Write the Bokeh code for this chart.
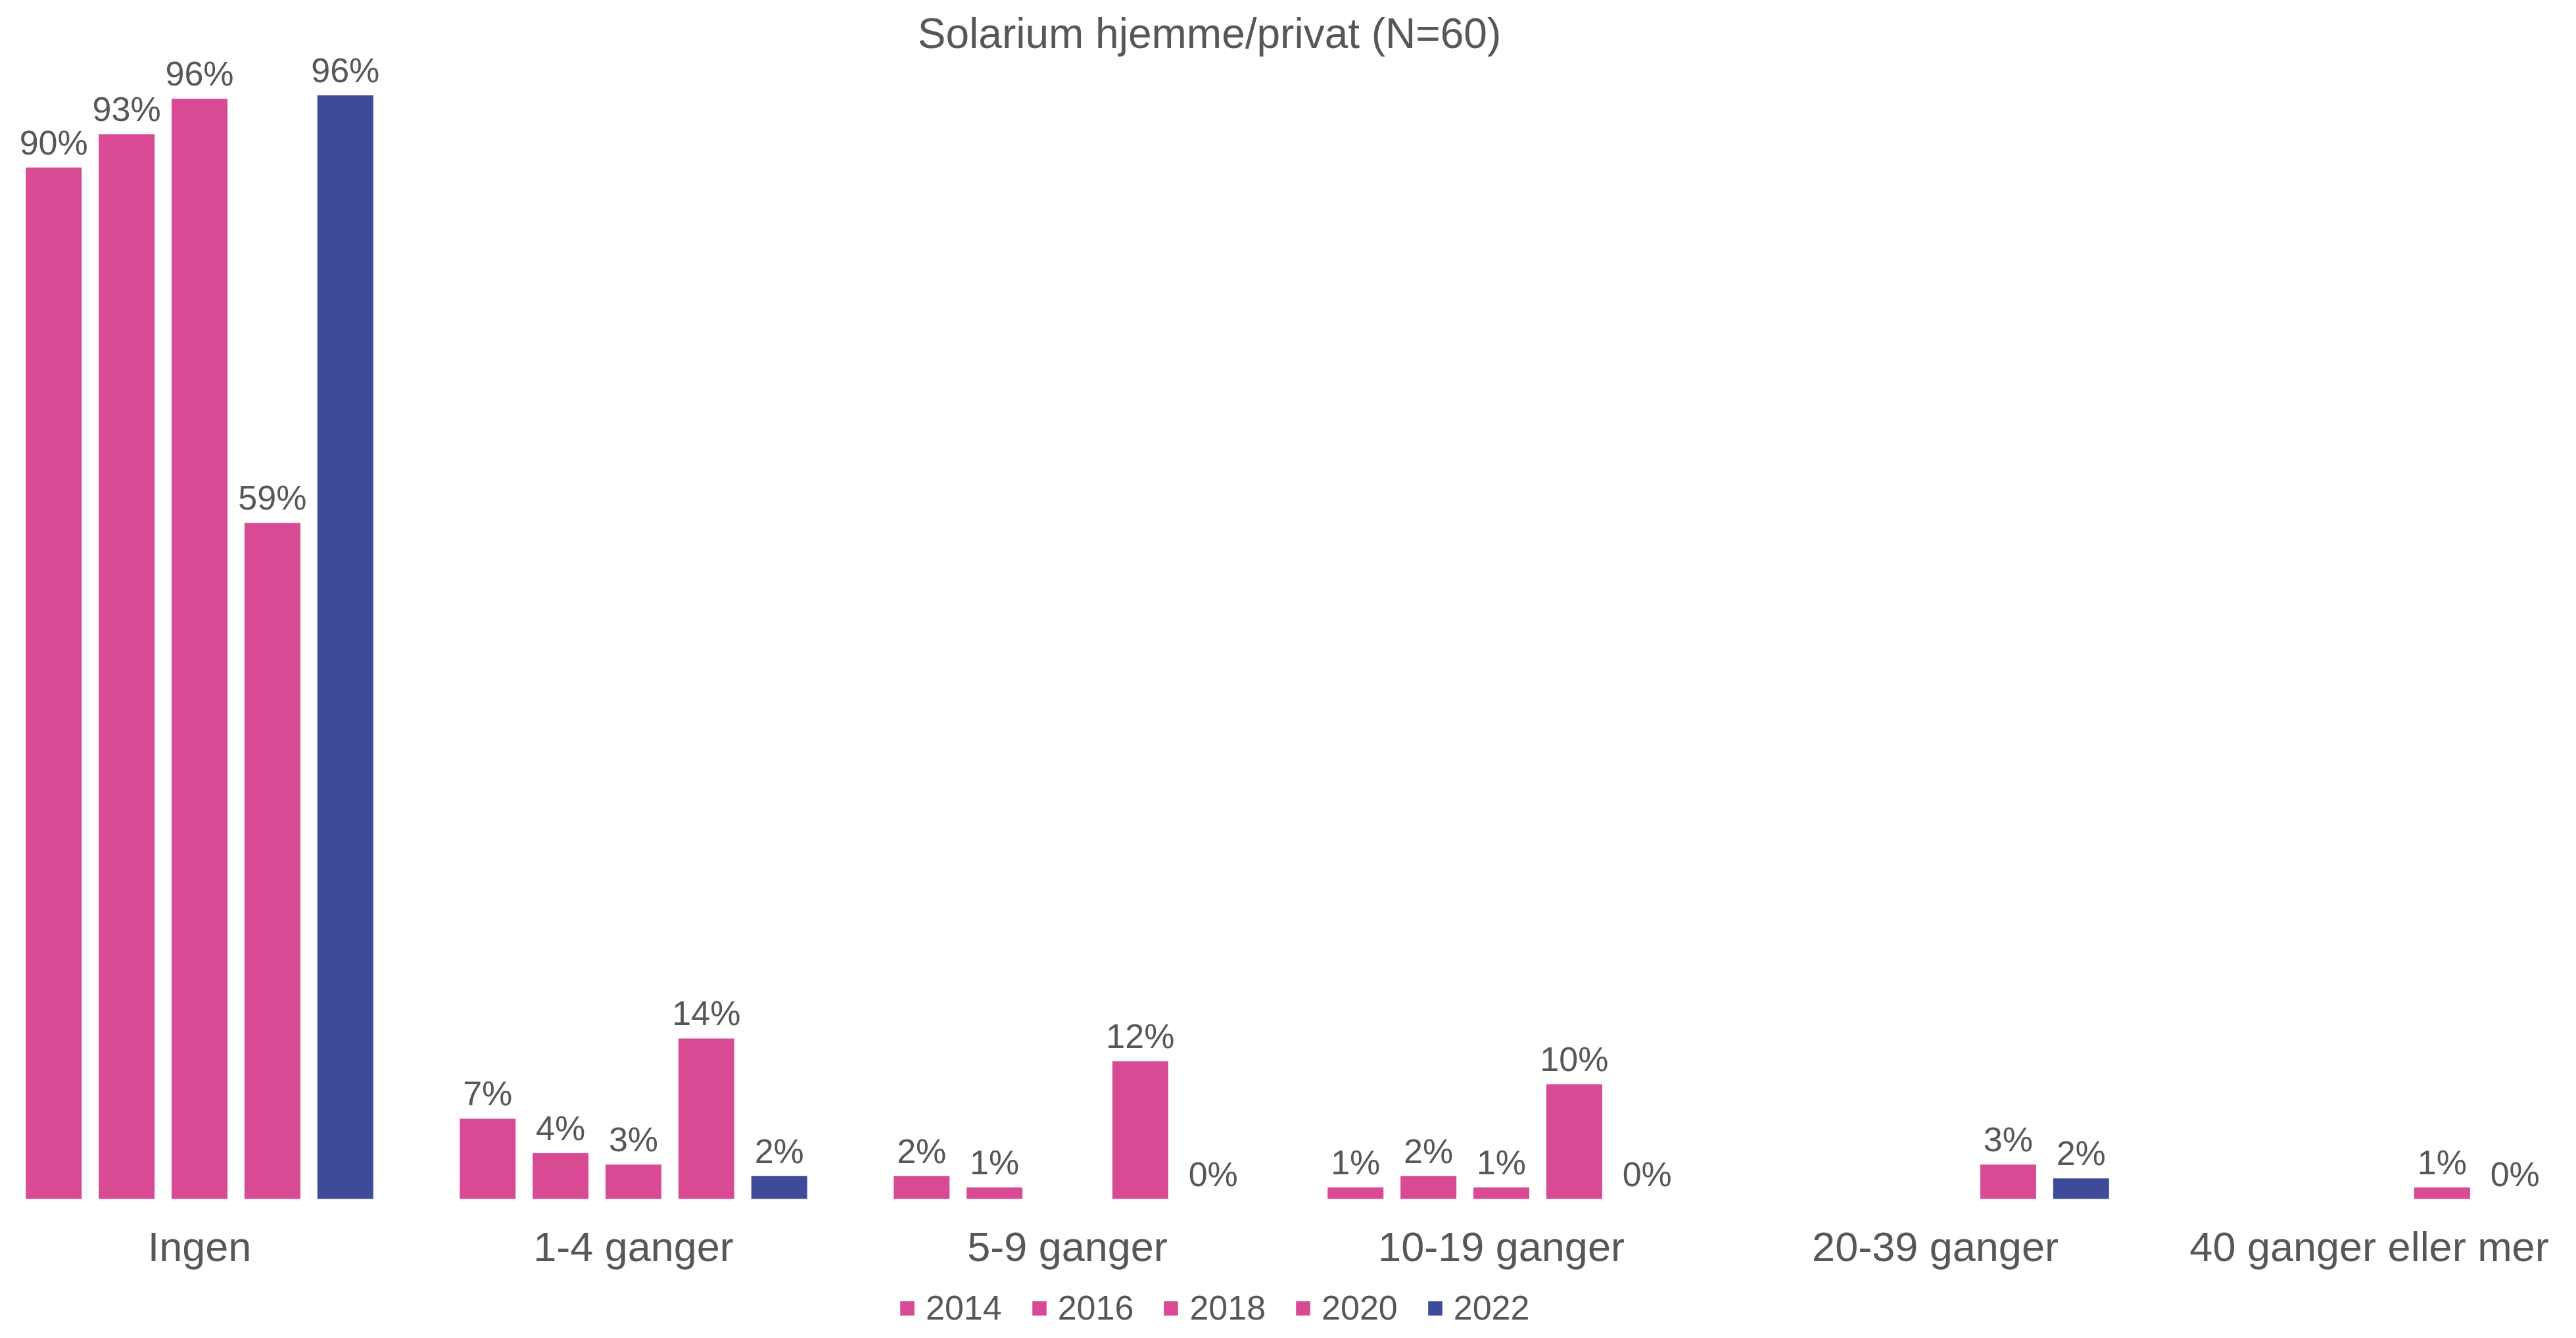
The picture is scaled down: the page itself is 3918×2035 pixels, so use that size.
from bokeh.plotting import figure
from bokeh.models import FixedTicker, Legend, LegendItem, Range1d, ColumnDataSource, Label
from bokeh.core.properties import value
from bokeh.embed import file_html
from bokeh.resources import INLINE
import math

nan = float("nan")

chart_title = "Solarium hjemme/privat (N=60)"
categories = ["Ingen", "1-4 ganger", "5-9 ganger", "10-19 ganger", "20-39 ganger", "40 ganger eller mer"]
years = ["2014", "2016", "2018", "2020", "2022"]
v2014 = [90.0, 7.0, 2.0, 1.0, nan, nan]
v2016 = [92.9, 4.0, 1.0, 2.0, nan, nan]
v2018 = [96.0, 3.0, nan, 1.0, nan, nan]
v2020 = [59.0, 14.0, 12.0, 10.0, 3.0, 1.0]
v2022 = [96.3, 2.0, 0.0, 0.0, 1.8, 0.0]
series = [v2014, v2016, v2018, v2020, v2022]

PINK = "#D84B94"
BLUE = "#3E4B98"
colors = [PINK, PINK, PINK, PINK, BLUE]
TEXT = "#575757"
FONT = "Liberation Sans"

W, H = 3902, 2019
p = figure(width=W, height=H, output_backend="svg", toolbar_location=None,
           x_range=Range1d(-0.45909, 5.45303), y_range=Range1d(-11.245, 104.59),
           y_axis_location=None, min_border_left=0, min_border_right=0,
           min_border_top=0, min_border_bottom=0)
p.outline_line_color = None
p.xgrid.visible = False
p.ygrid.visible = False
p.background_fill_color = "white"
p.border_fill_color = "white"

title_label = Label(x=1839, y=H - 50, x_units="screen", y_units="screen", text=chart_title,
                    text_align="center", text_baseline="middle", text_font=FONT,
                    text_font_size="64px", text_color=TEXT)
p.add_layout(title_label)

offset_step = 0.168
bar_w = 0.1288
items = []
for k, (yr, vals, col) in enumerate(zip(years, series, colors)):
    xs = [i + (k - 2) * offset_step for i in range(len(categories))]
    src = ColumnDataSource(dict(x=xs, top=vals))
    r = p.vbar(x="x", top="top", width=bar_w, source=src, fill_color=col, line_color=None)
    items.append(LegendItem(label=yr, renderers=[r]))
    lx = [x for x, v in zip(xs, vals) if not math.isnan(v)]
    ly = [v for v in vals if not math.isnan(v)]
    lt = [f"{round(v)}%" for v in ly]
    p.text(x=lx, y=ly, text=lt, text_align="center", text_baseline="alphabetic",
           y_offset=-38, text_font=value(FONT), text_font_size="52px", text_color=TEXT)

ax = p.xaxis[0]
ax.fixed_location = 0
ax.ticker = FixedTicker(ticks=list(range(len(categories))))
ax.major_label_overrides = {i: c for i, c in enumerate(categories)}
ax.axis_line_color = None
ax.major_tick_line_color = None
ax.minor_tick_line_color = None
ax.major_tick_out = 0
ax.major_tick_in = 0
ax.major_label_standoff = 37
ax.major_label_text_font = FONT
ax.major_label_text_font_size = "63px"
ax.major_label_text_color = TEXT

legend = Legend(items=items, location=(1366, 0), orientation="horizontal",
                glyph_width=27, glyph_height=27, label_standoff=15, spacing=43,
                padding=0, margin=0, border_line_color=None, background_fill_alpha=0,
                label_text_font=FONT, label_text_font_size="52px", label_text_color=TEXT)
p.add_layout(legend)

open("out.html", "w").write(file_html(p, INLINE))
